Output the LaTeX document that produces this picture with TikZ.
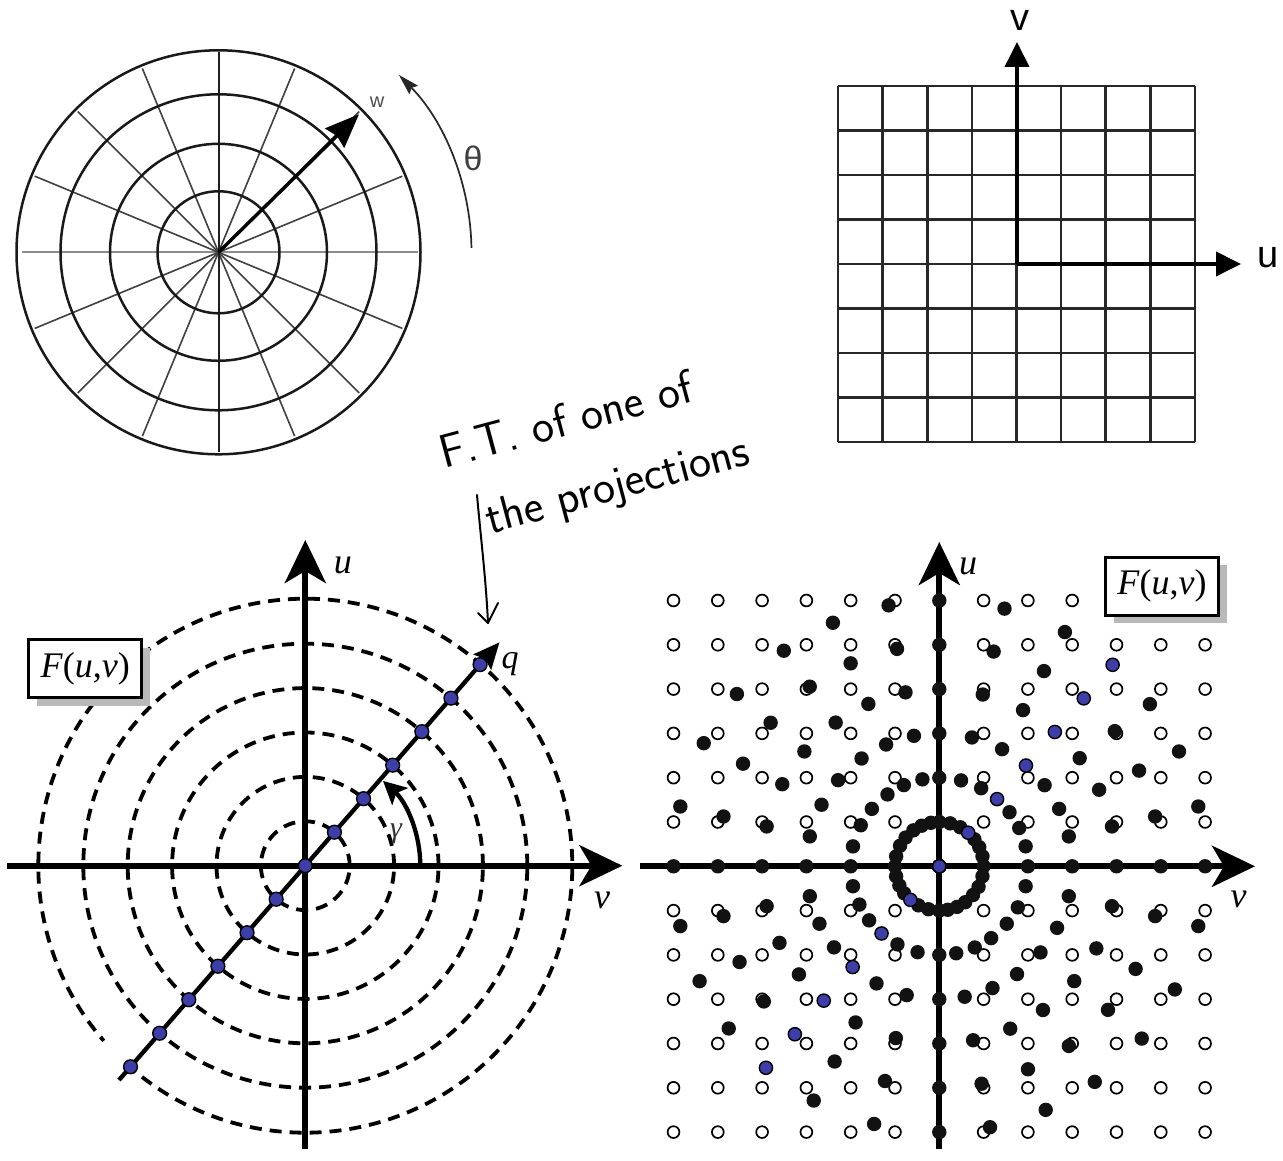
\documentclass[tikz,border=0pt]{standalone}
\usepackage{fontspec}
\usetikzlibrary{arrows.meta,shadows}
\newfontfamily\arialf{Liberation Sans}
\newfontfamily\tnrf{Liberation Serif}
\definecolor{dotblue}{RGB}{62,62,168}
\definecolor{gridgray}{RGB}{40,40,40}
\definecolor{shadowgray}{RGB}{185,185,185}
\tikzset{
 bigtip/.style={-{Stealth[length=43pt,width=41pt,inset=12pt]}},
 axisline/.style={line width=6pt, bigtip},
 dcircle/.style={line width=3.8pt, dash pattern=on 12pt off 8pt},
 bluedot/.style={fill=dotblue, draw=black, line width=1.4pt},
 opendot/.style={draw=black, fill=white, line width=1.7pt},
 seriflbl/.style={font=\tnrf\itshape\fontsize{36}{40}\selectfont, inner sep=0pt},
 sanslbl/.style={font=\arialf\fontsize{38}{42}\selectfont, inner sep=0pt},
 boxlbl/.style={draw=black, line width=2.8pt, fill=white, font=\tnrf\fontsize{36}{40}\selectfont,
   minimum width=113pt, minimum height=58pt, inner sep=0pt,
   drop shadow={shadow xshift=8pt, shadow yshift=-8pt, fill=shadowgray, opacity=1}},
 hand/.style={font=\sffamily\fontsize{47}{50}\selectfont, rotate=15, anchor=base, inner sep=0pt},
 handline/.style={line width=2pt, line cap=round, line join=round},
}
\begin{document}
\begin{tikzpicture}[x=1pt,y=1pt]
\useasboundingbox (0,0) rectangle (1283,1160);
\fill[white] (0,0) rectangle (1283,1160);

% ---------- top-left polar grid ----------
\begin{scope}[shift={(218.5,907.7)}]
 \coordinate (P) at (0,0);
 \draw[black!45, line width=2pt] (180:197pt) -- (0:199pt);
 \foreach \a in {22.5,45,67.5,112.5,135,157.5,202.5,225,247.5,292.5,315,337.5}
   \draw[black!75, line width=1.6pt] (P) -- (\a:199pt);
 \draw[black!88, line width=2pt] (90:200pt) -- (270:200pt);
 \foreach \r in {61,108.5,158,202}
   \draw[black!90, line width=2.5pt] (P) circle[radius=\r pt];
 \draw[line width=3.4pt, -{Stealth[length=34pt,width=27pt,inset=3pt]}] (P) -- (44.5:197pt) coordinate (wtip);
 \draw[black!85, line width=1.7pt, -{Stealth[length=21pt,width=12pt,inset=3pt]}]
   (1:253pt) arc[start angle=1, end angle=44.5, radius=253pt];
\end{scope}
\node[font=\arialf\fontsize{20}{22}\selectfont, text=black!70, inner sep=0pt] (wl) at (377,1058) {w};
\node[sanslbl, text=black!75, font=\arialf\fontsize{34}{38}\selectfont] (thl) at (473,1002) {θ};

% ---------- top-right cartesian grid ----------
\begin{scope}[shift={(838,718)}]
 \foreach \i in {0,...,8} {
   \draw[gridgray, line width=2.6pt] (\i*44.625,0) -- (\i*44.625,356);
   \draw[gridgray, line width=2.6pt] (0,\i*44.5) -- (357,\i*44.5);
 }
\end{scope}
\coordinate (G) at (1017,896);
\draw[line width=3.8pt, -{Triangle[length=25pt,width=24pt]}] (G) -- (1017,1118);
\draw[line width=3.8pt, -{Triangle[length=25pt,width=24pt]}] (G) -- (1241,896);
\node[sanslbl] (gv) at (1020,1140) {v};
\node[sanslbl] (gu) at (1268,902) {u};

% ---------- handwritten note ----------
\node[hand] (t1) at (570,725) {F.T. of one of};
\node[hand] (t2) at (621,661) {the projections};
\coordinate (hs) at (477,665);
\coordinate (he) at (488,537);
\draw[handline] (hs) .. controls (481,620) and (486,580) .. (he);
\draw[handline] (478,547) -- (he) -- (498,557);

% ---------- bottom-left: polar samples ----------
\begin{scope}[shift={(305.3,294.3)}]
 \coordinate (L) at (0,0);
 \foreach \k in {1,...,5} {
   \pgfmathsetmacro\rr{\k*44.4}
   \draw[dcircle] (L) circle[radius=\rr pt];
 }
 \draw[dcircle] (228:267pt) arc[start angle=228, end angle=581, radius=267pt];
 \draw[axisline] (-298.3,0) -- (317.1,0);
 \draw[axisline] (0,-283.3) -- (0,325.7);
 \draw[line width=4.3pt, -{Stealth[length=26pt,width=23pt,inset=4pt]}] (229:284pt) -- (49:296pt);
 \draw[line width=4.3pt, -{Stealth[length=23pt,width=23pt,inset=5pt]}]
   (0:115pt) arc[start angle=0, end angle=47.5, radius=115pt];
 \foreach \k in {-6,...,6} {
   \pgfmathsetmacro\rr{\k*44.4}
   \filldraw[bluedot] (49:\rr pt) circle[radius=6.9pt];
 }
\end{scope}
\node[seriflbl] (lu) at (342.8,594.4) {u};
\node[seriflbl] (lv) at (602,259.2) {v};
\node[seriflbl, font=\tnrf\itshape\fontsize{34}{38}\selectfont] (lq) at (510,496) {q};
\node[seriflbl, text=black!80, font=\tnrf\itshape\fontsize{30}{34}\selectfont] (lg) at (396,326) {γ};
\node[boxlbl] (lbox) at (85.3,491.3) {\textit{F}(\textit{u},\textit{v})};

% ---------- bottom-right: polar samples on cartesian grid ----------
\begin{scope}[shift={(939.3,293.7)}]
 \coordinate (R) at (0,0);
 \foreach \i in {-6,-5,-4,-3,-2,-1,1,2,3,4,5,6}
   \foreach \j in {-6,-5,-4,-3,-2,-1,1,2,3,4,5,6} {
     \pgfmathtruncatemacro\hid{(\j==6)*(\i>3)}
     \ifnum\hid=0
       \filldraw[opendot] (\i*44.3,\j*44.3) circle[radius=5.9pt];
     \fi
   }
 \draw[axisline] (-299.3,0) -- (315.7,0);
 \draw[axisline] (0,-282.7) -- (0,324.3);
 \foreach \a in {0,13,25.6,37.6,61.8,75.8,90,101,113.6,125.8,139.6,152.4,167}
   \foreach \k in {-6,...,6} {
     \pgfmathsetmacro\rr{\k*44.3}
     \fill[black!93] (\a:\rr pt) circle[radius=7.2pt];
   }
 \foreach \k in {-6,...,6} {
   \pgfmathsetmacro\rr{\k*44.3}
   \filldraw[bluedot] (49.3:\rr pt) circle[radius=6.6pt];
 }
\end{scope}
\node[seriflbl] (ru) at (968,594) {u};
\node[seriflbl] (rv) at (1238.6,261) {v};
\node[boxlbl] (rbox) at (1162,573.8) {\textit{F}(\textit{u},\textit{v})};
\end{tikzpicture}
\end{document}
